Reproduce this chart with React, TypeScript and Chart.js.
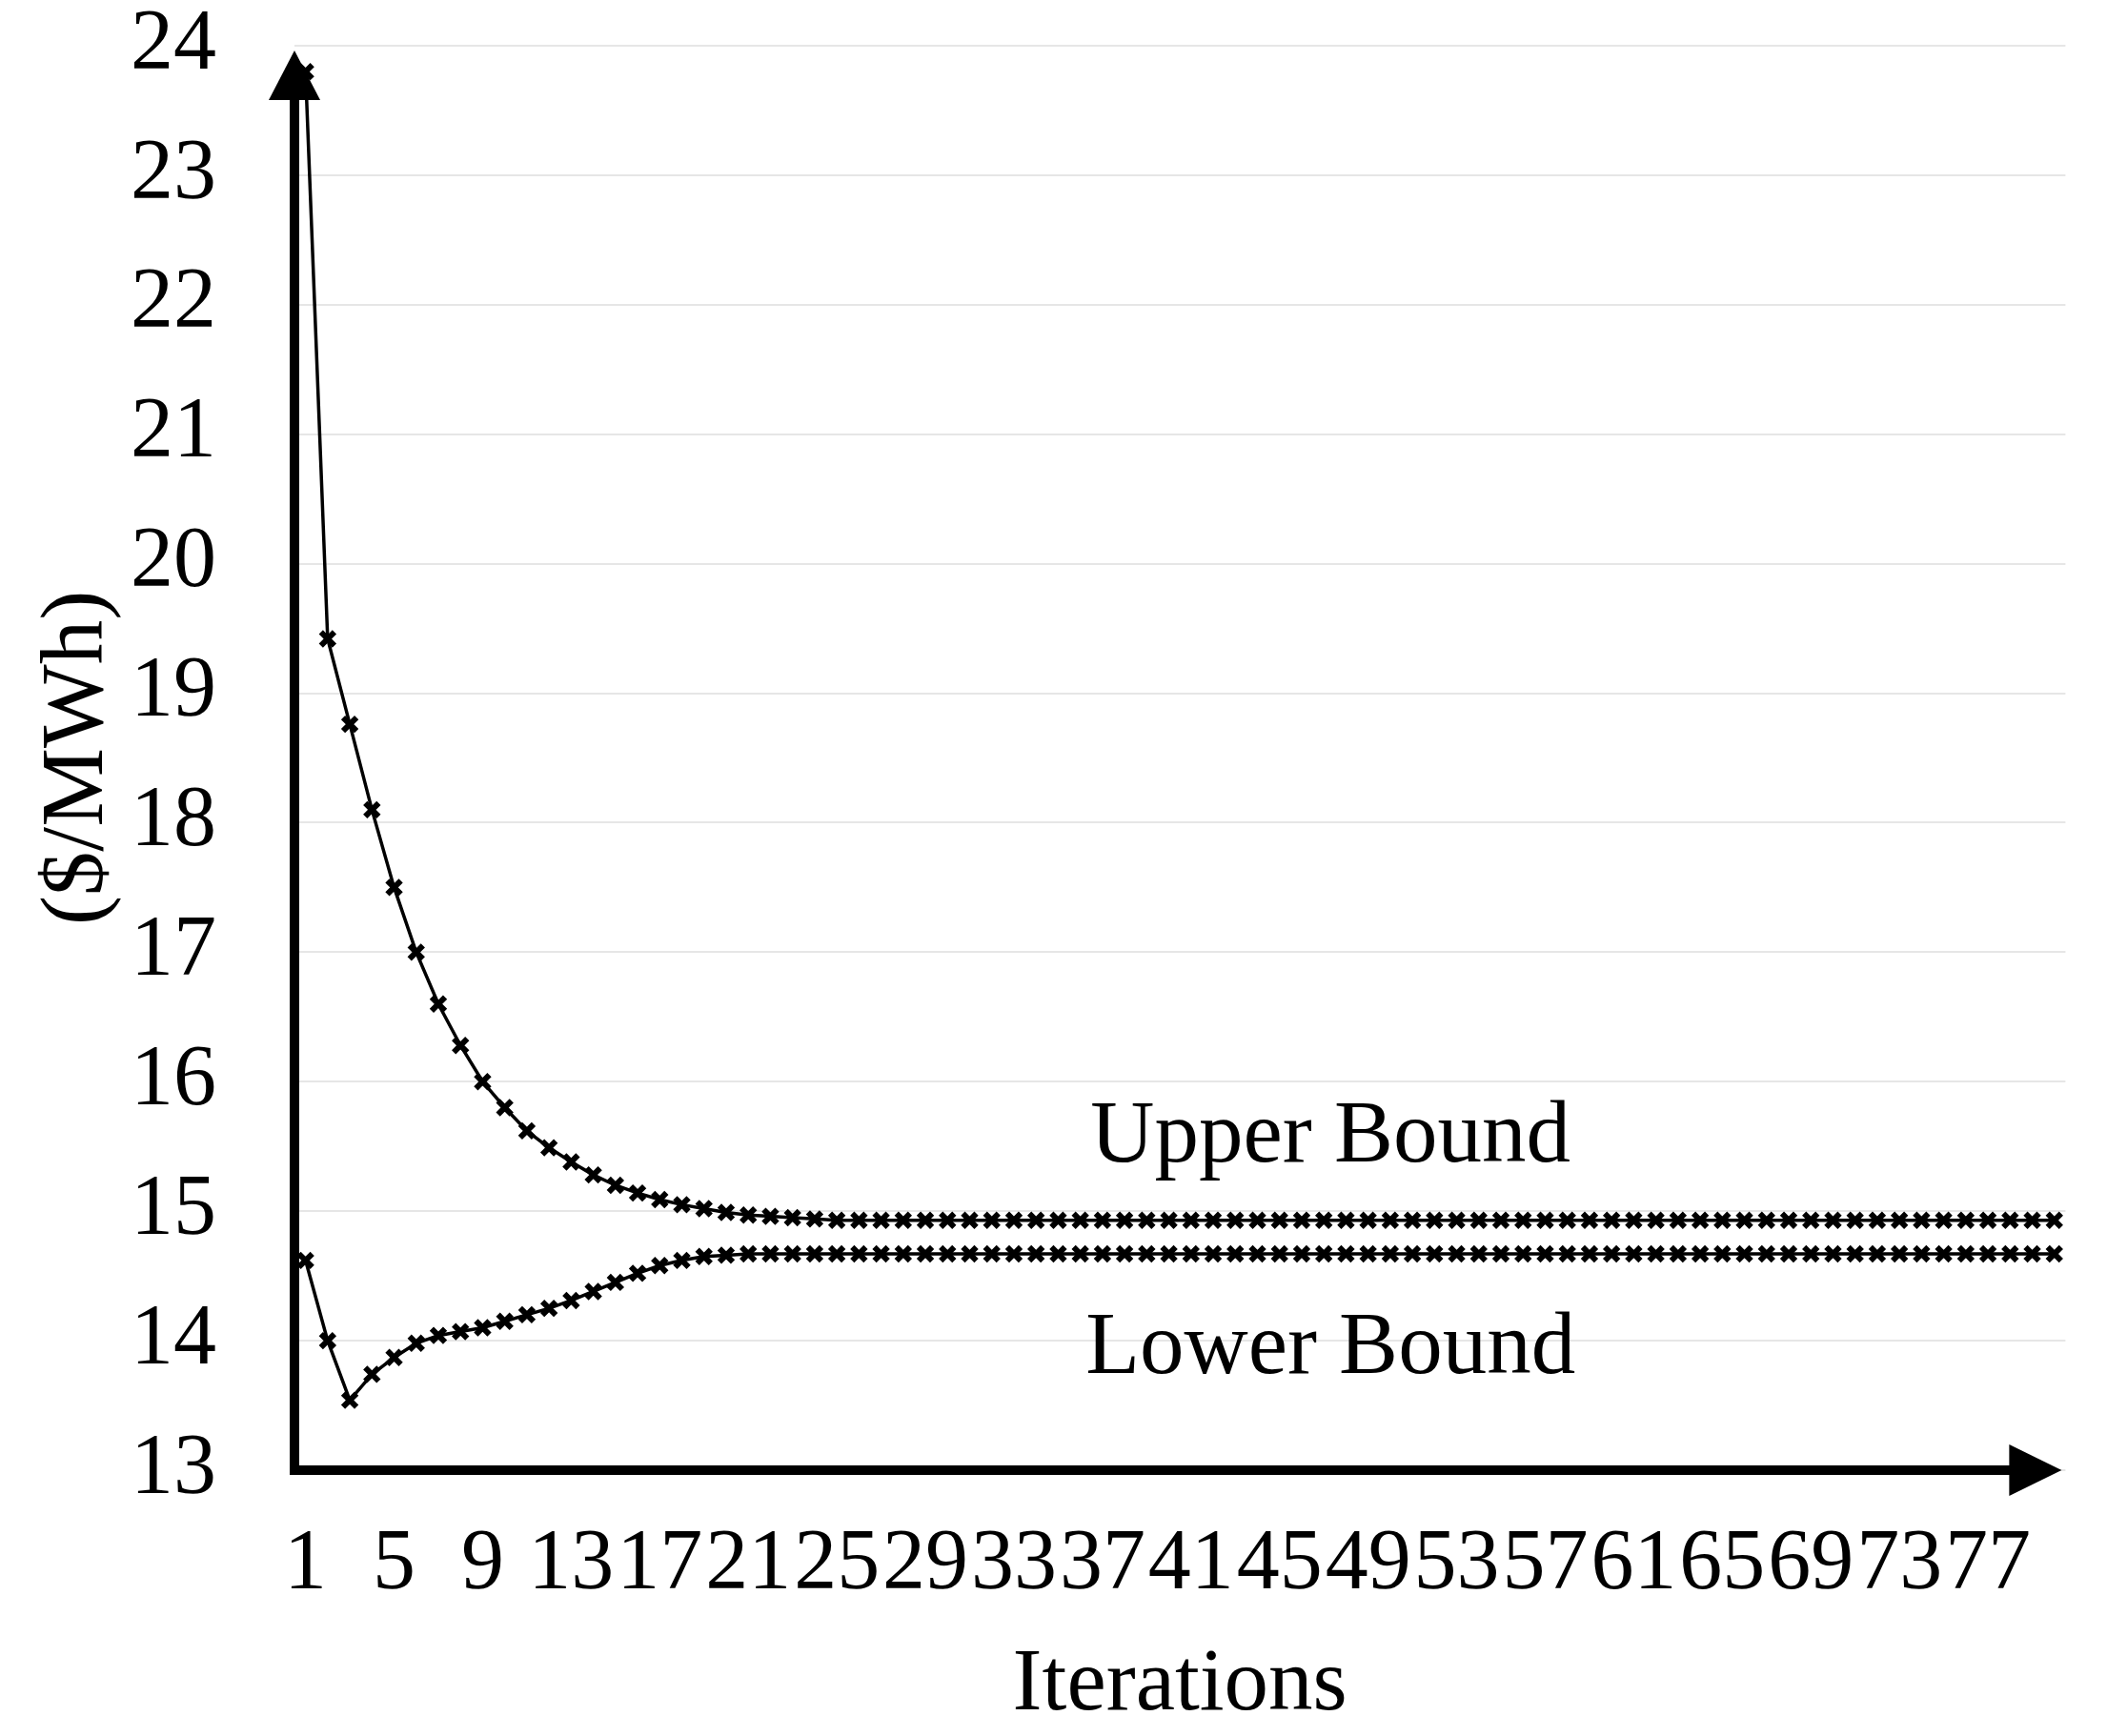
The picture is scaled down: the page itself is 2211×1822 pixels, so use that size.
import React, { useEffect, useRef } from 'react';
import { Chart, registerables } from 'chart.js';

Chart.register(...registerables);

const ITERATIONS = [
  '1', '2', '3', '4', '5', '6', '7', '8', '9', '10',
  '11', '12', '13', '14', '15', '16', '17', '18', '19', '20',
  '21', '22', '23', '24', '25', '26', '27', '28', '29', '30',
  '31', '32', '33', '34', '35', '36', '37', '38', '39', '40',
  '41', '42', '43', '44', '45', '46', '47', '48', '49', '50',
  '51', '52', '53', '54', '55', '56', '57', '58', '59', '60',
  '61', '62', '63', '64', '65', '66', '67', '68', '69', '70',
  '71', '72', '73', '74', '75', '76', '77', '78', '79', '80',
];

const X_TICK_LABELS = [
  '1', '5', '9', '13', '17', '21', '25', '29', '33', '37',
  '41', '45', '49', '53', '57', '61', '65', '69', '73', '77',
];

const Y_MIN = 13;
const Y_MAX = 24;
const Y_STEP = 1;

const UPPER_BOUND = [
  23.8, 19.42, 18.76, 18.1, 17.5, 17.0, 16.6, 16.28, 16.0, 15.8,
  15.62, 15.49, 15.38, 15.28, 15.2, 15.14, 15.09, 15.05, 15.02, 14.99,
  14.97, 14.96, 14.95, 14.94, 14.93, 14.93, 14.93, 14.93, 14.93, 14.93,
  14.93, 14.93, 14.93, 14.93, 14.93, 14.93, 14.93, 14.93, 14.93, 14.93,
  14.93, 14.93, 14.93, 14.93, 14.93, 14.93, 14.93, 14.93, 14.93, 14.93,
  14.93, 14.93, 14.93, 14.93, 14.93, 14.93, 14.93, 14.93, 14.93, 14.93,
  14.93, 14.93, 14.93, 14.93, 14.93, 14.93, 14.93, 14.93, 14.93, 14.93,
  14.93, 14.93, 14.93, 14.93, 14.93, 14.93, 14.93, 14.93, 14.93, 14.93,
];

const LOWER_BOUND = [
  14.62, 14.0, 13.54, 13.74, 13.87, 13.98, 14.04, 14.07, 14.1, 14.15,
  14.2, 14.25, 14.31, 14.38, 14.45, 14.52, 14.58, 14.62, 14.65, 14.66,
  14.67, 14.67, 14.67, 14.67, 14.67, 14.67, 14.67, 14.67, 14.67, 14.67,
  14.67, 14.67, 14.67, 14.67, 14.67, 14.67, 14.67, 14.67, 14.67, 14.67,
  14.67, 14.67, 14.67, 14.67, 14.67, 14.67, 14.67, 14.67, 14.67, 14.67,
  14.67, 14.67, 14.67, 14.67, 14.67, 14.67, 14.67, 14.67, 14.67, 14.67,
  14.67, 14.67, 14.67, 14.67, 14.67, 14.67, 14.67, 14.67, 14.67, 14.67,
  14.67, 14.67, 14.67, 14.67, 14.67, 14.67, 14.67, 14.67, 14.67, 14.67,
];

const SERIES_NAMES = ['Upper Bound', 'Lower Bound'];

// Text annotations placed in data coordinates (category index, value)
const ANNOTATION_TEXTS = ['Upper Bound', 'Lower Bound'];
const ANNOTATION_X_INDEX = [46.3, 46.3];
const ANNOTATION_Y_VALUE = [15.56, 13.93];

const X_TITLE = 'Iterations';
const Y_TITLE = '($/MWh)';

const FONT_FAMILY = '"Liberation Serif", "Times New Roman", Times, serif';

const axisArrowsPlugin = {
  id: 'axisArrows',
  beforeDatasetsDraw(chart: any) {
    const { ctx, chartArea } = chart;
    const { left, right, top, bottom } = chartArea;
    ctx.save();
    ctx.strokeStyle = '#000';
    ctx.fillStyle = '#000';
    ctx.lineWidth = 10;
    ctx.lineJoin = 'miter';
    ctx.lineCap = 'butt';
    ctx.beginPath();
    ctx.moveTo(left, top + 50);
    ctx.lineTo(left, bottom);
    ctx.lineTo(right - 50, bottom);
    ctx.stroke();
    // y-axis arrowhead
    ctx.beginPath();
    ctx.moveTo(left, top + 5);
    ctx.lineTo(left - 27, top + 57);
    ctx.lineTo(left + 27, top + 57);
    ctx.closePath();
    ctx.fill();
    // x-axis arrowhead
    ctx.beginPath();
    ctx.moveTo(right - 4, bottom);
    ctx.lineTo(right - 59, bottom - 27);
    ctx.lineTo(right - 59, bottom + 27);
    ctx.closePath();
    ctx.fill();
    ctx.restore();
  },
};

const annotationPlugin = {
  id: 'boundAnnotations',
  afterDatasetsDraw(chart: any) {
    const { ctx } = chart;
    const xs = chart.scales.x;
    const ys = chart.scales.y;
    ctx.save();
    ctx.fillStyle = '#000';
    ctx.font = `normal 93px ${FONT_FAMILY}`;
    ctx.textAlign = 'center';
    ctx.textBaseline = 'middle';
    ANNOTATION_TEXTS.forEach((t, i) => {
      const px = xs.getPixelForValue(ANNOTATION_X_INDEX[i]);
      const py = ys.getPixelForValue(ANNOTATION_Y_VALUE[i]);
      ctx.fillText(t, px, py);
    });
    ctx.restore();
  },
};

export default function App() {
  const canvasRef = useRef<HTMLCanvasElement | null>(null);

  useEffect(() => {
    if (!canvasRef.current) return;
    const seriesStyle = {
      borderColor: '#000',
      backgroundColor: '#000',
      borderWidth: 3.5,
      pointStyle: 'crossRot' as const,
      pointRadius: 10,
      pointBorderWidth: 6,
      pointBorderColor: '#000',
      pointBackgroundColor: '#000',
      tension: 0,
      fill: false,
    };
    const chart = new Chart(canvasRef.current, {
      type: 'line',
      data: {
        labels: ITERATIONS,
        datasets: [
          { label: SERIES_NAMES[0], data: UPPER_BOUND, ...seriesStyle },
          { label: SERIES_NAMES[1], data: LOWER_BOUND, ...seriesStyle },
        ],
      },
      options: {
        animation: false,
        responsive: false,
        devicePixelRatio: 1,
        layout: { padding: { left: 0, top: 48, right: 37, bottom: 0 } },
        plugins: {
          legend: { display: false },
          tooltip: { enabled: false },
        },
        scales: {
          x: {
            type: 'category',
            offset: true,
            grid: { display: false, drawTicks: false },
            border: { display: false },
            ticks: {
              autoSkip: false,
              maxRotation: 0,
              minRotation: 0,
              padding: 55,
              color: '#000',
              font: { family: FONT_FAMILY, size: 90, lineHeight: 1 },
              callback: (_v: any, i: number) =>
                X_TICK_LABELS.includes(ITERATIONS[i]) ? ITERATIONS[i] : '',
            },
            title: {
              display: true,
              text: X_TITLE,
              color: '#000',
              font: { family: FONT_FAMILY, size: 93, lineHeight: 1 },
              padding: { top: 0, bottom: 6 },
            },
            afterFit: (s: any) => {
              s.height = 279;
            },
          },
          y: {
            min: Y_MIN,
            max: Y_MAX,
            grid: {
              color: '#e6e6e6',
              lineWidth: 2,
              drawTicks: true,
              tickLength: 82,
              tickColor: 'rgba(0,0,0,0)',
            },
            border: { display: false },
            ticks: {
              stepSize: Y_STEP,
              padding: 0,
              color: '#000',
              font: { family: FONT_FAMILY, size: 90, lineHeight: 1 },
            },
            title: {
              display: true,
              text: Y_TITLE,
              color: '#000',
              font: { family: FONT_FAMILY, size: 93, lineHeight: 1 },
              padding: { top: 36, bottom: 0 },
            },
            afterFit: (s: any) => {
              s.width = 309;
            },
          },
        },
      } as any,
      plugins: [axisArrowsPlugin, annotationPlugin],
    });
    return () => chart.destroy();
  }, []);

  return (
    <div style={{ position: 'absolute', left: 0, top: 0, width: 2211, height: 1822, background: '#fff' }}>
      <canvas
        ref={canvasRef}
        width={2211}
        height={1822}
        style={{ display: 'block', width: 2211, height: 1822 }}
      />
    </div>
  );
}
